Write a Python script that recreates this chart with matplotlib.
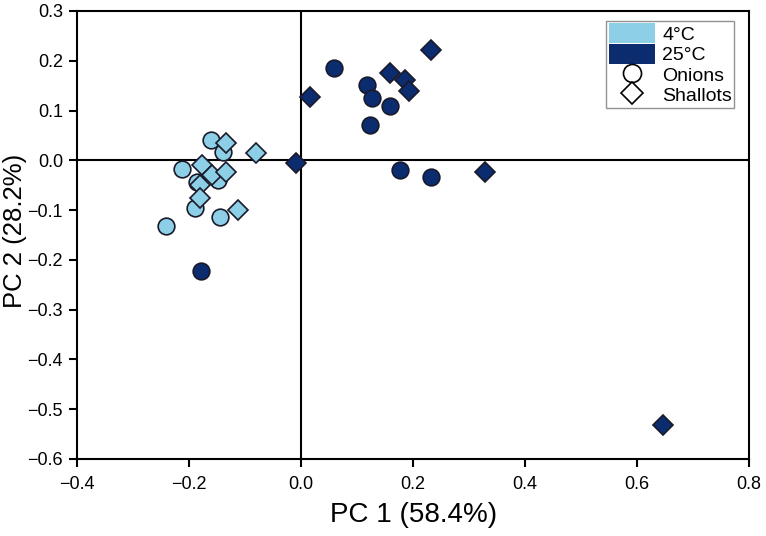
import matplotlib.pyplot as plt
from matplotlib.patches import Patch
from matplotlib.lines import Line2D

plt.rcParams['font.family'] = ['Liberation Sans', 'DejaVu Sans']

# 4 C samples
cold_onion_x = [-0.161, -0.139, -0.212, -0.186, -0.148, -0.189, -0.145, -0.241]
cold_onion_y = [0.041, 0.017, -0.017, -0.044, -0.040, -0.096, -0.114, -0.132]
cold_shallot_x = [-0.134, -0.080, -0.177, -0.159, -0.134, -0.180, -0.180, -0.112]
cold_shallot_y = [0.035, 0.015, -0.009, -0.029, -0.023, -0.050, -0.076, -0.100]

# 25 C samples
warm_onion_x = [0.059, 0.118, 0.127, 0.159, 0.123, 0.177, 0.232, -0.179]
warm_onion_y = [0.186, 0.151, 0.125, 0.109, 0.071, -0.019, -0.033, -0.222]
warm_shallot_x = [0.232, 0.016, 0.159, 0.186, 0.193, -0.009, 0.329, 0.646]
warm_shallot_y = [0.222, 0.127, 0.175, 0.161, 0.139, -0.005, -0.023, -0.532]

light = '#8ccfe6'
dark = '#0c2c70'
edge = '#1a1a2a'

fig = plt.figure(figsize=(7.66, 5.36), dpi=100)
ax = fig.add_axes([0.1005, 0.1437, 0.8775, 0.8358])

ax.axhline(0, color='black', lw=1.5, zorder=1)
ax.axvline(0, color='black', lw=1.5, zorder=1)

ax.plot(cold_onion_x, cold_onion_y, 'o', ms=12, mfc=light, mec=edge, mew=1.2, ls='none', zorder=3)
ax.plot(cold_shallot_x, cold_shallot_y, 'D', ms=10.5, mfc=light, mec=edge, mew=1.2, ls='none', zorder=3)
ax.plot(warm_onion_x, warm_onion_y, 'o', ms=12, mfc=dark, mec=edge, mew=1.2, ls='none', zorder=3)
ax.plot(warm_shallot_x, warm_shallot_y, 'D', ms=10.5, mfc=dark, mec=edge, mew=1.2, ls='none', zorder=3)

ax.set_xlim(-0.4, 0.8)
ax.set_ylim(-0.6, 0.3)
ax.set_xticks([-0.4, -0.2, 0.0, 0.2, 0.4, 0.6, 0.8])
ax.set_yticks([0.3, 0.2, 0.1, 0.0, -0.1, -0.2, -0.3, -0.4, -0.5, -0.6])
ax.set_xticklabels(['\u22120.4', '\u22120.2', '0.0', '0.2', '0.4', '0.6', '0.8'])
ax.set_yticklabels(['0.3', '0.2', '0.1', '0.0', '\u22120.1', '\u22120.2', '\u22120.3',
                    '\u22120.4', '\u22120.5', '\u22120.6'])
ax.tick_params(direction='out', length=6, width=1.5, labelsize=13, color='black')
ax.tick_params(axis='x', pad=6)
ax.tick_params(axis='y', pad=4)
for s in ax.spines.values():
    s.set_linewidth(1.5)

ax.set_xlabel('PC 1 (58.4%)', fontsize=20, labelpad=7)
ax.set_ylabel('PC 2 (28.2%)', fontsize=18.5)
ax.yaxis.set_label_coords(-0.074, 0.51)

handles = [Patch(facecolor=light, edgecolor='none'),
           Patch(facecolor=dark, edgecolor='none'),
           Line2D([], [], marker='o', ms=13, mfc='white', mec='black', mew=1.2, ls='none'),
           Line2D([], [], marker='D', ms=11.5, mfc='white', mec='black', mew=1.2, ls='none')]
leg = ax.legend(handles, ['4\u00b0C', '25\u00b0C', 'Onions', 'Shallots'],
                loc='upper right', bbox_to_anchor=(0.9777, 0.9777), borderaxespad=0,
                fontsize=14, frameon=True, fancybox=False,
                handlelength=2.4, handleheight=1.2, labelspacing=0.0,
                handletextpad=0.35, borderpad=0.12)
leg.get_frame().set_edgecolor('#777777')
leg.get_frame().set_linewidth(1.0)

fig.savefig('out.png', dpi=100)
